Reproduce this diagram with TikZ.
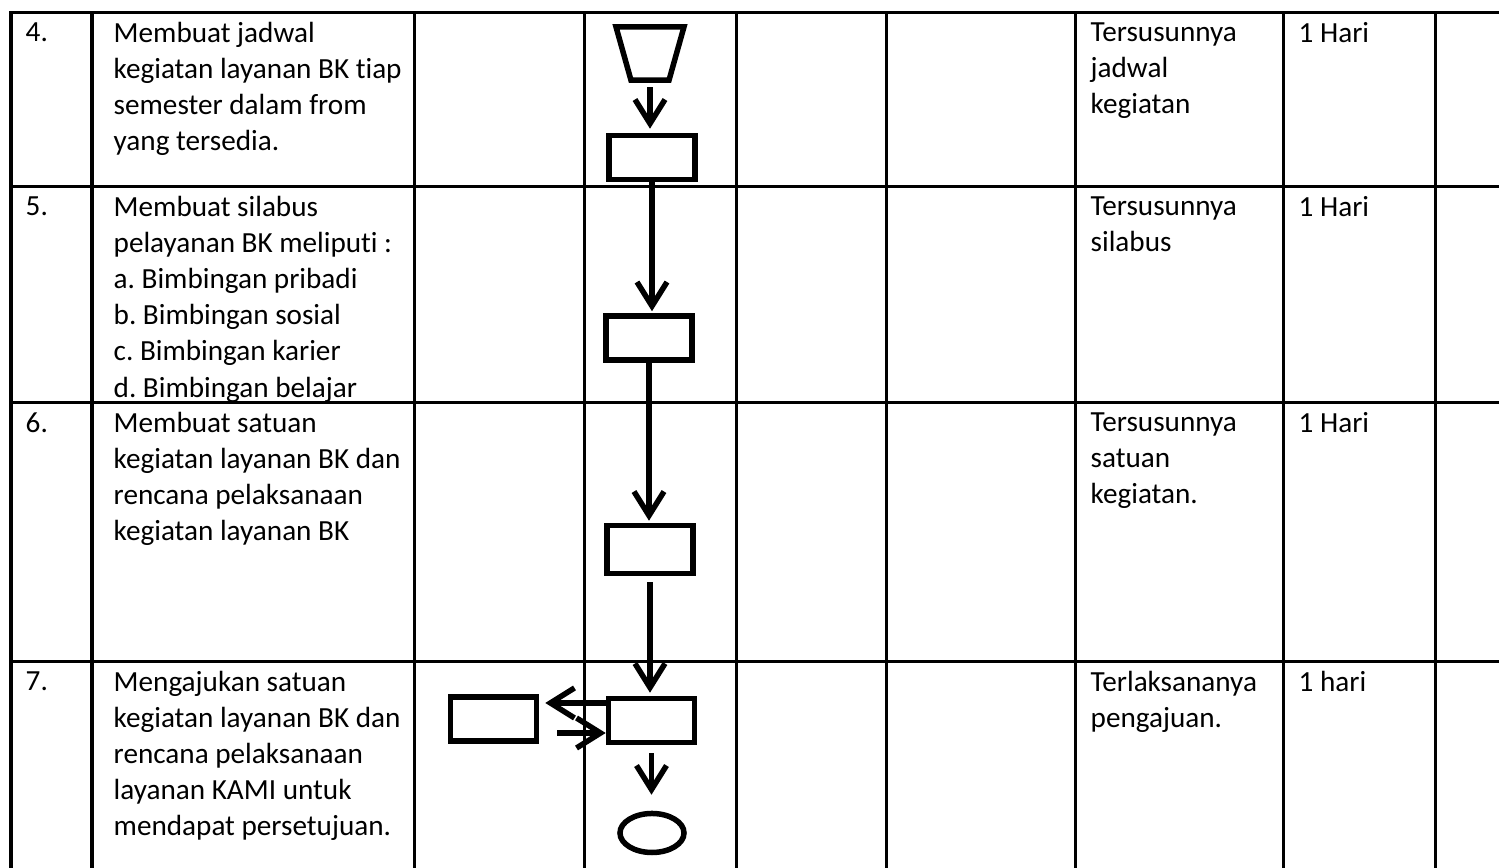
\documentclass[tikz,border=0pt]{standalone}
\usepackage{fontspec}
\setmainfont{Carlito}[Ligatures=NoCommon]
\usetikzlibrary{shapes.geometric,arrows.meta}

\begin{document}
\begin{tikzpicture}[x=0.01cm,y=-0.01cm]
\tikzstyle{lien}=[-{Straight Barb[length=0.24cm,width=0.3cm]},line width=0.055cm]
\tikzset{boite/.style={draw,line width=0.055cm,minimum width=0.86cm,minimum height=#1,inner sep=0},
boite/.default={0.44cm},
texte/.style={anchor=north west,inner sep=0,align=left,font=\fontsize{8.3}{10.24}\selectfont\frenchspacing},
grille/.style={line width=0.03cm,line cap=rect}}
\useasboundingbox (0,0) rectangle (1499,868);

% grille du tableau
\foreach \y in {13,187,403,662} \draw[grille] (11,\y) -- (1499,\y);
\foreach \x in {11,92,414,584,736,886,1075,1283,1435} \draw[grille] (\x,13) -- (\x,868);

% textes
\node[texte] (n4) at (25,22) {4.};
\node[texte] (k4) at (113,22) {Membuat jadwal\\kegiatan layanan BK tiap\\semester dalam from\\yang tersedia.};
\node[texte] (h4) at (1090,22) {Tersusunnya\\jadwal\\kegiatan};
\node[texte] (w4) at (1298,22) {1 Hari};

\node[texte] (n5) at (25,196) {5.};
\node[texte] (k5) at (113,196) {Membuat silabus\\pelayanan BK meliputi :\\a. Bimbingan pribadi\\b. Bimbingan sosial\\c. Bimbingan karier\\d. Bimbingan belajar};
\node[texte] (h5) at (1090,196) {Tersusunnya\\silabus};
\node[texte] (w5) at (1298,196) {1 Hari};

\node[texte] (n6) at (25,412) {6.};
\node[texte] (k6) at (113,412) {Membuat satuan\\kegiatan layanan BK dan\\rencana pelaksanaan\\kegiatan layanan BK};
\node[texte] (h6) at (1090,412) {Tersusunnya\\satuan\\kegiatan.};
\node[texte] (w6) at (1298,412) {1 Hari};

\node[texte] (n7) at (25,671) {7.};
\node[texte] (k7) at (113,671) {Mengajukan satuan\\kegiatan layanan BK dan\\rencana pelaksanaan\\layanan KAMI untuk\\mendapat persetujuan.};
\node[texte] (h7) at (1090,671) {Terlaksananya\\pengajuan.};
\node[texte] (w7) at (1298,671) {1 hari};

% bagan alir
\node[minimum width=0.68cm,minimum height=0.52cm,inner sep=0] (T) at (650,53.5) {};
\draw[line width=0.055cm] ([xshift=-0.34cm]T.north) -- ([xshift=0.34cm]T.north) -- ([xshift=0.19cm]T.south) -- ([xshift=-0.19cm]T.south) -- cycle;
\node[boite] (B4) at (652,157.5) {};
\node[boite] (B5) at (649,338) {};
\node[boite=0.48cm] (B6) at (650,549.5) {};
\node[boite] (B7) at (651.5,720.5) {};
\node[boite] (B7a) at (493.5,719) {};
\node[ellipse,draw,line width=0.055cm,minimum width=0.64cm,minimum height=0.39cm,inner sep=0] (E) at (652,833) {};

\draw[lien,shorten <=0.07cm,shorten >=0.04cm] (T.south) -- (T.south |- B4.north);
\draw[lien,shorten >=0.02cm] (B4.south) -- (B4.south |- B5.north);
\draw[lien,shorten >=0.02cm] (B5.south) -- (B5.south |- B6.north);
\draw[lien,shorten <=0.06cm,shorten >=0.03cm] (B6.south) -- (B6.south |- B7.north);
\draw[lien,shorten <=0.08cm,shorten >=0.16cm] (B7.south) -- (B7.south |- E.north);
\draw[lien,shorten >=0.06cm] ([yshift=0.175cm]B7.west) -- ([yshift=0.175cm]B7.west -| B7a.east);
\draw[lien,shorten <=0.18cm] ([yshift=-0.125cm]B7.west -| B7a.east) -- ([yshift=-0.125cm]B7.west);

\end{tikzpicture}
\end{document}
